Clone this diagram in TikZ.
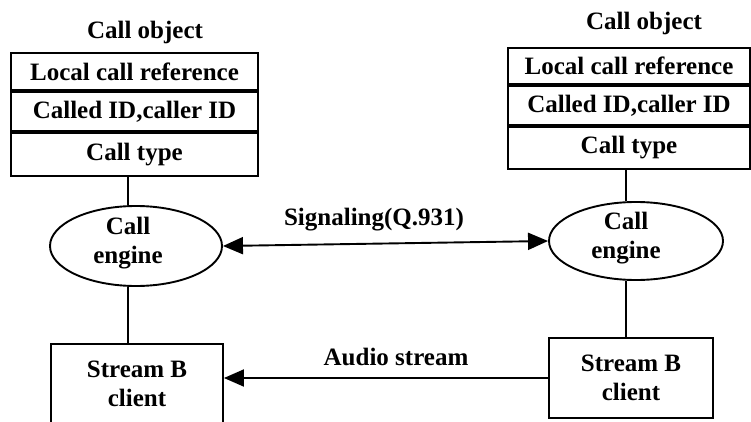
\documentclass[tikz,border=0pt]{standalone}
\usepackage{fontspec}
\setmainfont{Liberation Serif}
\usetikzlibrary{shapes.geometric,arrows.meta}
\begin{document}
\begin{tikzpicture}[x=1pt,y=-1pt,
  every node/.style={font=\bfseries\fontsize{25}{28.5}\selectfont},
  line/.style={line width=1.9pt},
  cell/.style={draw,line width=1.9pt,rectangle,inner sep=0pt,anchor=north},
  engine/.style={draw,line width=1.9pt,ellipse,inner sep=0pt},
  clientbox/.style={draw,line width=1.9pt,rectangle,inner sep=0pt,minimum width=#1,minimum height=80pt},
  lbl/.style={align=center,inner sep=0pt},
  tip/.style={-{Triangle[length=20pt,width=17pt]}},
]
\useasboundingbox (0,0) rectangle (751,422);

% left call object table
\node[lbl] (ltitle) at (145,32) {Call object};
\node[cell,minimum width=247pt,minimum height=37pt] (lt1) at (134.5,52) {Local call reference};
\node[cell,minimum width=247pt,minimum height=39pt] (lt2) at (lt1.south) {Called ID,caller ID};
\node[cell,minimum width=247pt,minimum height=43pt] (lt3) at (lt2.south) {Call type};

% right call object table
\node[lbl] (rtitle) at (644,23) {Call object};
\node[cell,minimum width=242pt,minimum height=36pt] (rt1) at (629,47) {Local call reference};
\node[cell,minimum width=242pt,minimum height=39pt] (rt2) at (rt1.south) {Called ID,caller ID};
\node[cell,minimum width=242pt,minimum height=42pt] (rt3) at (rt2.south) {Call type};

% call engines
\node[engine,minimum width=172pt,minimum height=80pt] (leng) at (136,246) {};
\node[lbl] (ltxt) at (128,243) {Call\\engine};
\node[engine,minimum width=174pt,minimum height=78pt] (reng) at (636,241) {};
\node[lbl] (rtxt) at (626,238) {Call\\engine};

% stream clients
\node[clientbox=172pt,align=center] (lbox) at (137,384) {Stream B\\client};
\node[clientbox=164pt,align=center] (rbox) at (631,378) {Stream B\\client};

% vertical links
\draw[line] (lt3.south -| ltxt) -- (leng.north -| ltxt);
\draw[line] (leng.south -| ltxt) -- (lbox.north -| ltxt);
\draw[line] (rt3.south -| rtxt) -- (reng.north -| rtxt);
\draw[line] (reng.south -| rtxt) -- (rbox.north -| rtxt);

% signaling and media
\draw[line,{Triangle[length=20pt,width=17pt]}-{Triangle[length=20pt,width=17pt]}] (leng.east) -- (reng.west);
\node[lbl] (sig) at (374,220) {Signaling(Q.931)};
\draw[line,tip] (rbox.west) -- (rbox.west -| lbox.east);
\node[lbl] (aud) at (396,357) {Audio stream};
\end{tikzpicture}
\end{document}
